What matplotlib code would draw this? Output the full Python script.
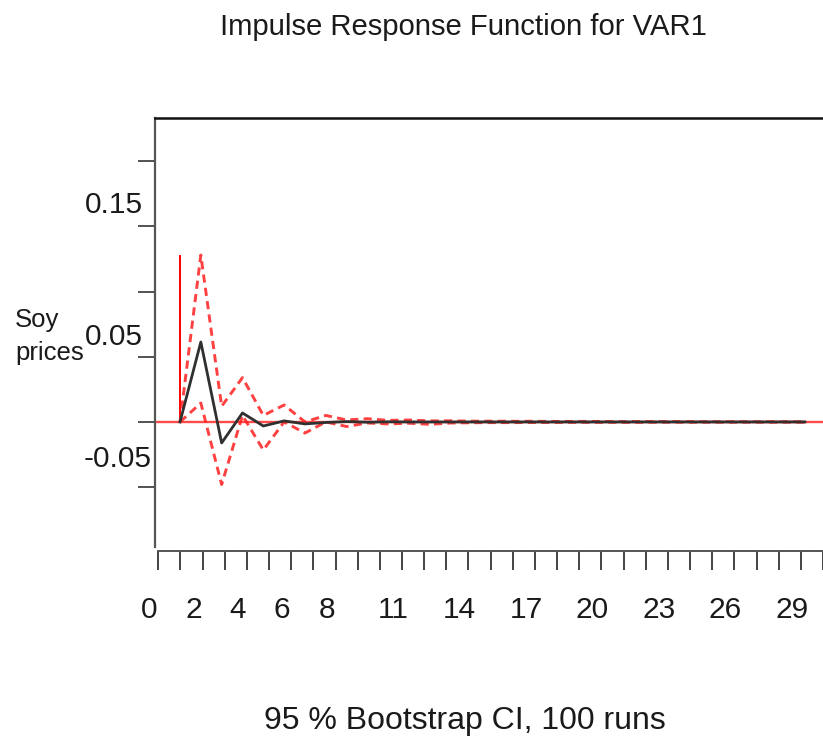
import matplotlib as mpl
mpl.use('Agg')  # no display
import numpy as np
import matplotlib.pyplot as plt
from matplotlib.transforms import ScaledTranslation

plt.rcParams['font.family'] = ['Liberation Sans', 'DejaVu Sans']

# horizons of the impulse response (data x)
horizon = np.arange(1, 32)
irf = [0.0, 0.0613, -0.0161, 0.0069, -0.0031, 0.0008, -0.0015, -0.0004, 0.0003, -0.0002,
       0.0001, 0.0, 0.0, 0.0, 0.0, 0.0, 0.0, 0.0, 0.0, 0.0,
       0.0, 0.0, 0.0, 0.0, 0.0, 0.0, 0.0, 0.0, 0.0, 0.0, 0.0]
upper = [0.0, 0.128, 0.012, 0.034, 0.005, 0.013, 0.0, 0.005, 0.0015, 0.0025,
         0.0012, 0.0015, 0.0008, 0.0009, 0.0006, 0.0006, 0.0005, 0.0005, 0.0004, 0.0004,
         0.0004, 0.0003, 0.0003, 0.0003, 0.0003, 0.0002, 0.0002, 0.0002, 0.0002, 0.0002, 0.0002]
lower = [0.0, 0.0145, -0.048, 0.005, -0.0215, 0.0, -0.0085, 0.0, -0.0035, -0.0008,
         -0.0015, -0.0010, -0.0018, -0.0008, -0.0006, -0.0005, -0.0005, -0.0004, -0.0004, -0.0003,
         -0.0003, -0.0003, -0.0003, -0.0002, -0.0002, -0.0002, -0.0002, -0.0002, -0.0002, -0.0002, -0.0002]

xtick_values = list(range(31))
xtick_shown = ['0', '2', '4', '6', '8', '11', '14', '17', '20', '23', '26', '29']
ytick_values = [-0.05, 0.0, 0.05, 0.1, 0.15, 0.2]
ytick_shown = ['0.15', '0.05', '-0.05']

W, H = 823, 742
fig = plt.figure(figsize=(W / 100, H / 100), dpi=100)

# main plotting area (runs off the right edge like the original)
ax = fig.add_axes([155 / W, 1 - 547 / H, (W - 155) / W, (547 - 118) / H])
ax.set_xlim(-0.2, 31.87)
ax.set_ylim(-0.0959, 0.2331)

ax.axhline(0, color='#ff2a2a', lw=1.7, alpha=0.85, zorder=1)
ax.vlines(horizon[0], 0, max(upper), color='#ff0000', lw=1.4, zorder=2)
ax.plot(horizon, upper, color='#ff2020', lw=2.1, dashes=(2.8, 1.8), alpha=0.85, zorder=3)
ax.plot(horizon, lower, color='#ff2020', lw=2.1, dashes=(2.8, 1.8), alpha=0.85, zorder=3)
ax.plot(horizon, irf, color='#303030', lw=2.0, zorder=4)

for s in ['right', 'bottom']:
    ax.spines[s].set_visible(False)
ax.spines['top'].set_linewidth(1.8)
ax.spines['top'].set_color('#111111')
ax.spines['left'].set_linewidth(1.6)
ax.spines['left'].set_color('#555555')

ax.set_xticks([])
ax.set_yticks(ytick_values, labels=[''] * len(ytick_values))
ax.tick_params(axis='y', direction='out', length=12.5, width=1.3, color='#444444')

# y labels sit a bit above their ticks in the original
ylab_offsets = {'0.15': (-11.7, 13.7), '0.05': (-11.7, 11.7), '-0.05': (-3.3, 20.0)}
for lab in ytick_shown:
    dx, dy = ylab_offsets[lab]
    ax.annotate(lab, xy=(0, float(lab)), xycoords=('axes fraction', 'data'),
                xytext=(dx, dy), textcoords='offset pixels',
                ha='right', va='baseline', fontsize=21.5, color='#1a1a1a')

# separate x axis, drawn a little below the plot with its own spacing
step_ratio = 20.83 / 22.16
shift = 21.7 / 20.83


def to_tick(x):
    return (x - 1 + shift) * step_ratio


ax2 = fig.add_axes([155 / W, 1 - 551 / H, (W - 155) / W, 0.0001])
ax2.patch.set_visible(False)
for s in ['top', 'right', 'left']:
    ax2.spines[s].set_visible(False)
ax2.spines['bottom'].set_linewidth(1.4)
ax2.spines['bottom'].set_color('#555555')
ax2.spines['bottom'].set_bounds(0, 40)
ax2.set_xlim(to_tick(-0.2), to_tick(31.87))
ax2.set_yticks([])
ax2.set_xticks(xtick_values,
               labels=[str(v) if str(v) in xtick_shown else '' for v in xtick_values])
ax2.tick_params(axis='x', direction='out', length=13.7, width=1.4, color='#444444',
                labelsize=21.5, labelcolor='#1a1a1a', pad=19)
for lab in ax2.get_xticklabels():
    lab.set_transform(lab.get_transform() + ScaledTranslation(-9 / 100, 0, fig.dpi_scale_trans))

fig.text(15 / W, 1 - 360 / H, 'Soy\nprices', fontsize=18.5, color='#1a1a1a',
         ha='left', va='baseline', linespacing=1.45)
fig.text(463 / W, 1 - 35 / H, 'Impulse Response Function for VAR1', fontsize=21.1,
         color='#1a1a1a', ha='center', va='baseline')
fig.text(465 / W, 1 - 729 / H, '95 % Bootstrap CI, 100 runs', fontsize=23,
         color='#1a1a1a', ha='center', va='baseline')

fig.savefig('out.png', dpi=100)
